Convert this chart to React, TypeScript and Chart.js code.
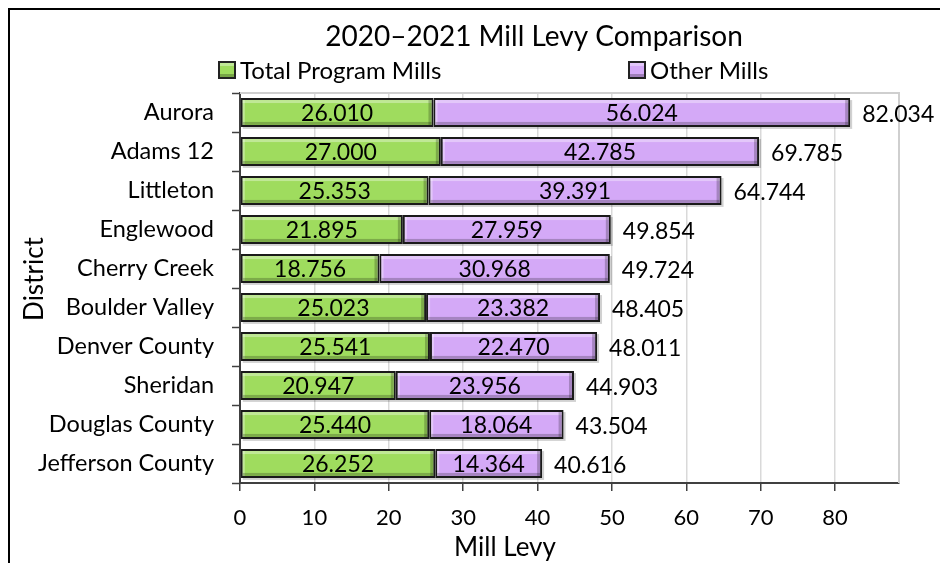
import React, { useEffect, useRef } from 'react';
import { Chart, registerables } from 'chart.js';

Chart.register(...registerables);

const districts = ['Aurora', 'Adams 12', 'Littleton', 'Englewood', 'Cherry Creek', 'Boulder Valley', 'Denver County', 'Sheridan', 'Douglas County', 'Jefferson County'];
const programMills = [26.010, 27.000, 25.353, 21.895, 18.756, 25.023, 25.541, 20.947, 25.440, 26.252];
const otherMills = [56.024, 42.785, 39.391, 27.959, 30.968, 23.382, 22.470, 23.956, 18.064, 14.364];
const seriesNames = ['Total Program Mills', 'Other Mills'];
const seriesColors = ['#9fdc5e', '#d4a9f7'];
const chartTitle = '2020\u20132021 Mill Levy Comparison';
const xTitle = 'Mill Levy';
const yTitle = 'District';
const xMax = 88.6;
const xStep = 10;

const FONT = 'Lato';
const W = 938;
const H = 555;

const decor = {
  id: 'decor',
  beforeDraw(chart: any) {
    const ctx = chart.ctx;
    ctx.save();
    ctx.fillStyle = '#fff';
    ctx.fillRect(0, 0, chart.width, chart.height);
    ctx.restore();
  },
  beforeDatasetsDraw(chart: any) {
    const ctx = chart.ctx;
    const a = chart.chartArea;
    ctx.save();
    ctx.strokeStyle = '#cfcfcf';
    ctx.lineWidth = 2;
    ctx.beginPath();
    ctx.moveTo(a.left, a.top);
    ctx.lineTo(a.right, a.top);
    ctx.lineTo(a.right, a.bottom);
    ctx.stroke();
    const m0 = chart.getDatasetMeta(0).data;
    const m1 = chart.getDatasetMeta(1).data;
    ctx.fillStyle = 'rgba(0,0,0,0.18)';
    for (let i = 0; i < m0.length; i++) {
      const b0: any = m0[i];
      const b1: any = m1[i];
      const left = Math.min(b0.base, b0.x);
      const right = Math.max(b1.x, b1.base);
      const top = b0.y - b0.height / 2;
      ctx.fillRect(left + 2, top + 2, right - left, b0.height);
    }
    ctx.restore();
  },
  afterDatasetsDraw(chart: any) {
    const ctx = chart.ctx;
    ctx.save();
    const bw = 2;
    for (let d = 0; d < 2; d++) {
      const meta = chart.getDatasetMeta(d).data;
      meta.forEach((b: any) => {
        const left = Math.min(b.base, b.x) + bw;
        const right = Math.max(b.base, b.x) - bw;
        const top = b.y - b.height / 2 + bw;
        const bottom = b.y + b.height / 2 - bw;
        ctx.fillStyle = 'rgba(255,255,255,0.35)';
        ctx.fillRect(left, top, right - left, 3);
        ctx.fillRect(left, top, 2, bottom - top);
        ctx.fillStyle = 'rgba(0,0,0,0.22)';
        ctx.fillRect(left, bottom - 3, right - left, 3);
        ctx.fillRect(right - 3, top, 3, bottom - top);
      });
    }
    ctx.fillStyle = '#000';
    ctx.font = `23px ${FONT}`;
    ctx.textBaseline = 'middle';
    ctx.textAlign = 'center';
    const ds = [programMills, otherMills];
    for (let d = 0; d < 2; d++) {
      const meta = chart.getDatasetMeta(d).data;
      meta.forEach((b: any, i: number) => {
        ctx.fillText(ds[d][i].toFixed(3), (b.base + b.x) / 2, b.y + 1);
      });
    }
    ctx.textAlign = 'left';
    const m1 = chart.getDatasetMeta(1).data;
    m1.forEach((b: any, i: number) => {
      const total = programMills[i] + otherMills[i];
      ctx.fillText(total.toFixed(3), b.x + 12, b.y + 2);
    });
    ctx.restore();
  },
  afterDraw(chart: any) {
    const ctx = chart.ctx;
    ctx.save();
    ctx.strokeStyle = '#000';
    ctx.lineWidth = 2;
    ctx.beginPath();
    ctx.moveTo(1, H);
    ctx.lineTo(1, 1);
    ctx.lineTo(W - 2, 1);
    ctx.lineTo(W - 2, H);
    ctx.stroke();
    ctx.fillStyle = '#000';
    ctx.textAlign = 'center';
    ctx.textBaseline = 'middle';
    ctx.font = `28px ${FONT}`;
    ctx.fillText(chartTitle, 526, 29);
    const legendX = [210, 620];
    ctx.font = `24px ${FONT}`;
    ctx.textAlign = 'left';
    for (let i = 0; i < 2; i++) {
      const x = legendX[i];
      const y = 53;
      ctx.fillStyle = seriesColors[i];
      ctx.fillRect(x, y, 18, 18);
      ctx.fillStyle = 'rgba(255,255,255,0.35)';
      ctx.fillRect(x + 2, y + 2, 14, 3);
      ctx.fillStyle = 'rgba(0,0,0,0.25)';
      ctx.fillRect(x + 2, y + 13, 14, 3);
      ctx.strokeStyle = '#222';
      ctx.lineWidth = 2;
      ctx.strokeRect(x + 1, y + 1, 16, 16);
      ctx.fillStyle = '#000';
      ctx.fillText(seriesNames[i], x + 22, y + 10);
    }
    ctx.textAlign = 'center';
    ctx.font = `26px ${FONT}`;
    ctx.fillText(xTitle, 497, 540);
    ctx.translate(27, 271);
    ctx.rotate(-Math.PI / 2);
    ctx.fillText(yTitle, 0, 0);
    ctx.restore();
  },
};

export default function App() {
  const ref = useRef<HTMLCanvasElement | null>(null);
  useEffect(() => {
    if (!ref.current) return;
    const chart = new Chart(ref.current, {
      type: 'bar',
      data: {
        labels: districts,
        datasets: [
          { label: seriesNames[0], data: programMills, backgroundColor: seriesColors[0], borderColor: '#1a1a1a', borderWidth: 2, borderSkipped: false, categoryPercentage: 1, barPercentage: 0.74 },
          { label: seriesNames[1], data: otherMills, backgroundColor: seriesColors[1], borderColor: '#1a1a1a', borderWidth: 2, borderSkipped: false, categoryPercentage: 1, barPercentage: 0.74 },
        ],
      },
      options: {
        indexAxis: 'y',
        responsive: false,
        animation: false,
        devicePixelRatio: 1,
        layout: { padding: { top: 85, right: 47, bottom: 0, left: 0 } },
        plugins: { legend: { display: false }, title: { display: false }, tooltip: { enabled: false } },
        scales: {
          x: {
            type: 'linear',
            stacked: true,
            min: 0,
            max: xMax,
            ticks: { stepSize: xStep, includeBounds: false, color: '#000', font: { family: FONT, size: 22 }, padding: 14 },
            grid: { color: '#d9d9d9', lineWidth: 1.5, tickLength: 8, tickColor: '#404040', tickWidth: 1.5 },
            border: { color: '#404040', width: 2 },
            afterFit: (s: any) => { s.height = 80; },
          },
          y: {
            stacked: true,
            ticks: { color: '#000', font: { family: FONT, size: 23.5 }, padding: 18 },
            grid: { display: true, drawOnChartArea: false, tickLength: 8, tickColor: '#404040', tickWidth: 1.5, offset: true },
            border: { color: '#404040', width: 2 },
            afterFit: (s: any) => { s.width = 232; },
          },
        },
      },
      plugins: [decor],
    } as any);
    return () => chart.destroy();
  }, []);
  return (
    <div style={{ width: W, height: H }}>
      <canvas ref={ref} width={W} height={H} style={{ display: 'block' }} />
    </div>
  );
}
